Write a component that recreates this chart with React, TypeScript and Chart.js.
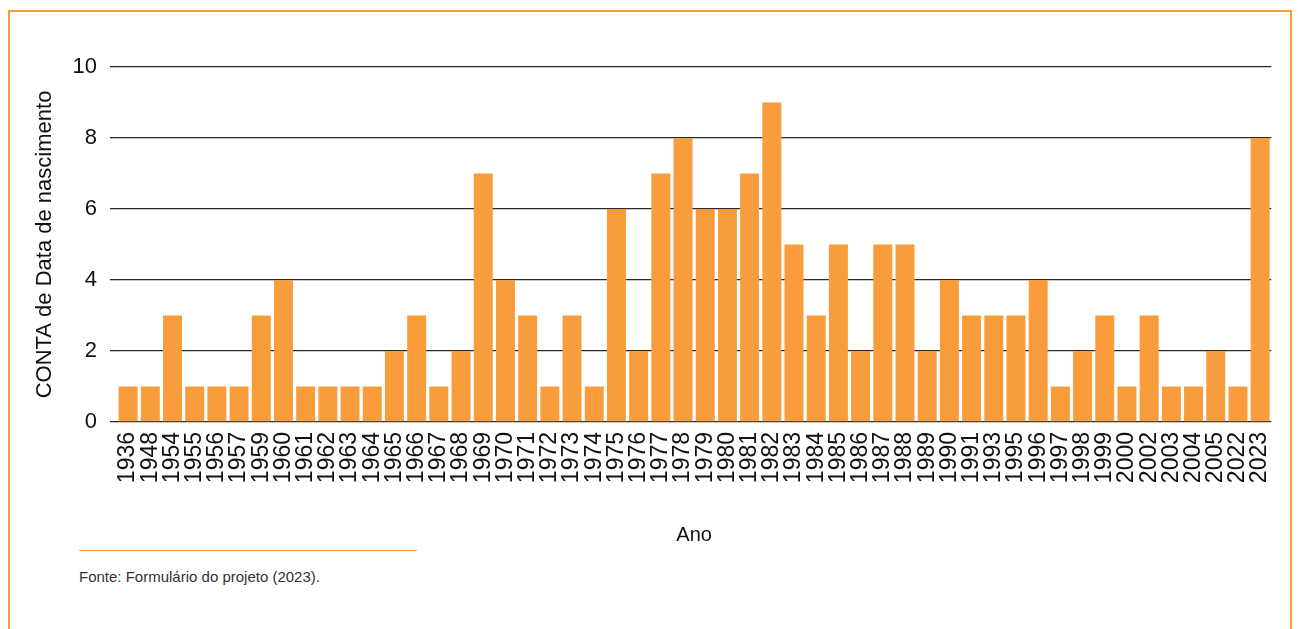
import React, { useEffect, useRef } from "react";
import { Chart, registerables } from "chart.js";

Chart.register(...registerables);

const years = [
  "1936", "1948", "1954", "1955", "1956", "1957", "1959", "1960", "1961", "1962",
  "1963", "1964", "1965", "1966", "1967", "1968", "1969", "1970", "1971", "1972",
  "1973", "1974", "1975", "1976", "1977", "1978", "1979", "1980", "1981", "1982",
  "1983", "1984", "1985", "1986", "1987", "1988", "1989", "1990", "1991", "1993",
  "1995", "1996", "1997", "1998", "1999", "2000", "2002", "2003", "2004", "2005",
  "2022", "2023",
];

const counts = [
  1, 1, 3, 1, 1, 1, 3, 4, 1, 1,
  1, 1, 2, 3, 1, 2, 7, 4, 3, 1,
  3, 1, 6, 2, 7, 8, 6, 6, 7, 9,
  5, 3, 5, 2, 5, 5, 2, 4, 3, 3,
  3, 4, 1, 2, 3, 1, 3, 1, 1, 2,
  1, 8,
];

const yTicks = [0, 2, 4, 6, 8, 10];

const seriesLabel = "CONTA de Data de nascimento";
const xTitle = "Ano";
const yTitle = "CONTA de Data de nascimento";
const sourceText = "Fonte: Formulário do projeto (2023).";

const ORANGE = "#F89C3C";
const FONT = "'Liberation Sans', Arial, sans-serif";

export default function App() {
  const canvasRef = useRef<HTMLCanvasElement | null>(null);

  useEffect(() => {
    const canvas = canvasRef.current;
    if (!canvas) return;
    const chart = new Chart(canvas, {
      type: "bar",
      data: {
        labels: years,
        datasets: [
          {
            label: seriesLabel,
            data: counts,
            backgroundColor: ORANGE,
            borderWidth: 0,
            categoryPercentage: 1,
            barPercentage: 0.855,
          },
        ],
      },
      options: {
        animation: false,
        responsive: false,
        maintainAspectRatio: false,
        layout: { padding: { left: 0, right: 26, top: 67, bottom: 0 } },
        plugins: {
          legend: { display: false },
          tooltip: { enabled: false },
        },
        scales: {
          x: {
            grid: { display: false, drawTicks: false },
            border: { display: false },
            ticks: {
              autoSkip: false,
              minRotation: 90,
              maxRotation: 90,
              padding: 10,
              color: "#111",
              font: { family: FONT, size: 23 },
            },
            title: {
              display: true,
              text: xTitle,
              color: "#111",
              font: { family: FONT, size: 20 },
              padding: { top: 0, bottom: 0 },
            },
            afterFit: (scale: any) => {
              scale.height = 125;
            },
          },
          y: {
            min: 0,
            max: 10,
            afterBuildTicks: (scale: any) => {
              scale.ticks = yTicks.map((v) => ({ value: v }));
            },
            grid: { color: "#2a2a2a", lineWidth: 1.3, drawTicks: true, tickLength: 7 },
            border: { display: false },
            ticks: {
              padding: 13,
              color: "#111",
              font: { family: FONT, size: 22 },
            },
            title: {
              display: true,
              text: yTitle,
              color: "#111",
              font: { family: FONT, size: 22 },
              padding: { top: 32, bottom: 0 },
            },
            afterFit: (scale: any) => {
              scale.width = 117;
            },
          },
        },
      },
    });
    return () => chart.destroy();
  }, []);

  return (
    <div
      style={{
        position: "fixed",
        left: 0,
        top: 0,
        width: 1298,
        height: 629,
        overflow: "hidden",
        background: "#fff",
      }}
    >
      <div
        style={{
          position: "absolute",
          left: 8,
          top: 10,
          width: 1284,
          height: 640,
          border: `2px solid ${ORANGE}`,
          borderBottom: "none",
          boxSizing: "border-box",
        }}
      />
      <canvas
        ref={canvasRef}
        width={1298}
        height={547}
        style={{ position: "absolute", left: 0, top: 0, width: 1298, height: 547 }}
      />
      <div
        style={{
          position: "absolute",
          left: 79,
          top: 550,
          width: 338,
          height: 0,
          borderTop: `1px solid ${ORANGE}`,
        }}
      />
      <div
        style={{
          position: "absolute",
          left: 79,
          top: 568,
          fontFamily: FONT,
          fontSize: 15,
          color: "#333",
          whiteSpace: "nowrap",
        }}
      >
        {sourceText}
      </div>
    </div>
  );
}
